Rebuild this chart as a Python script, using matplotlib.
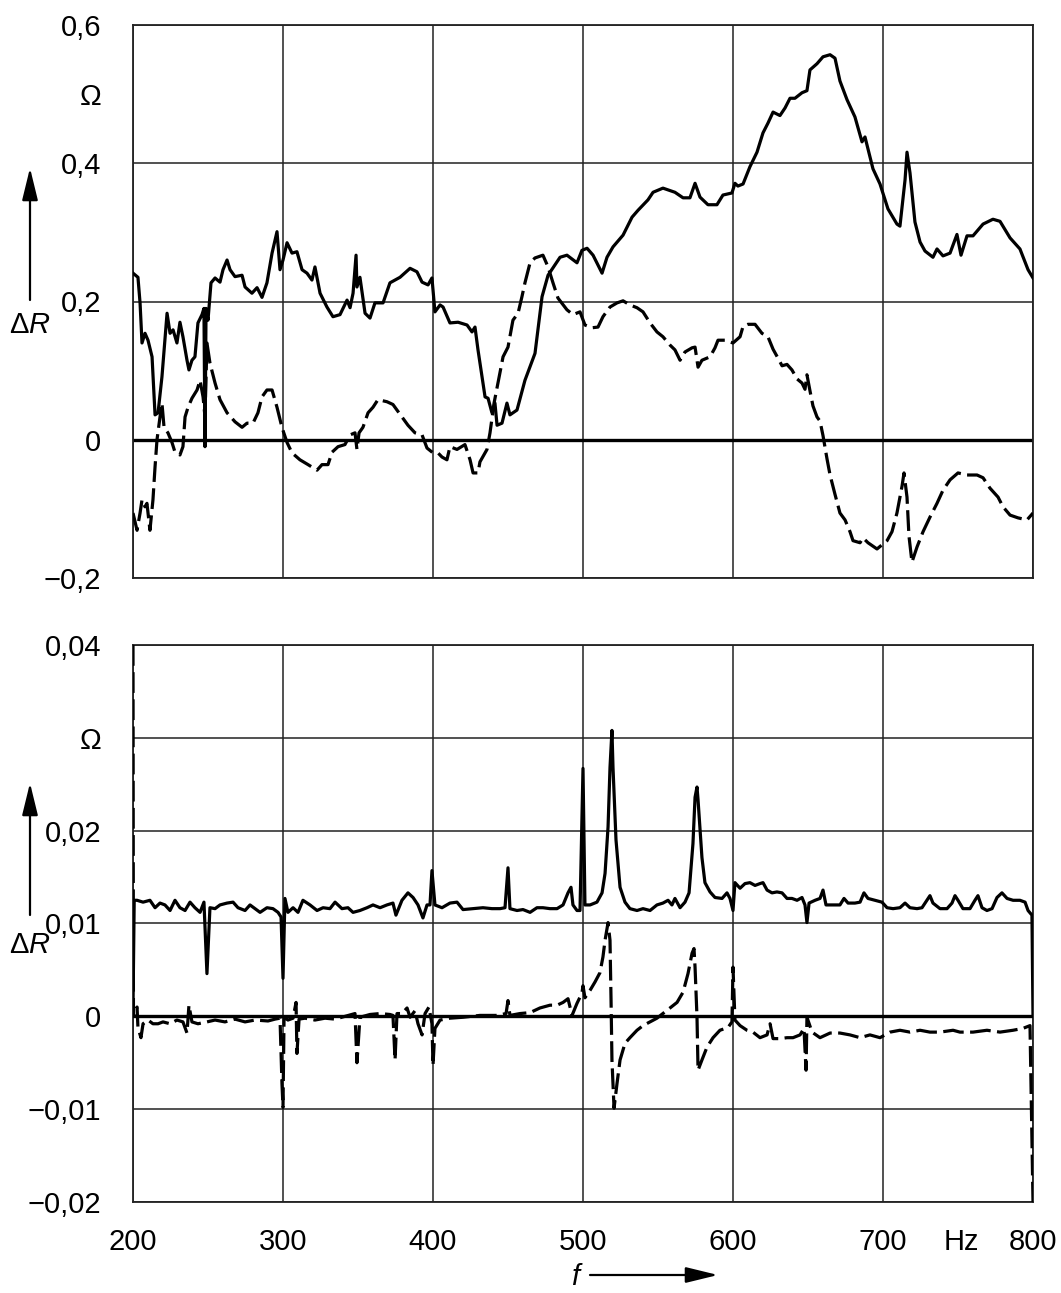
import matplotlib
matplotlib.use("Agg")
import matplotlib.pyplot as plt

plt.rcParams['font.family'] = ['Liberation Sans', 'DejaVu Sans']
plt.rcParams['mathtext.fontset'] = 'custom'
plt.rcParams['mathtext.it'] = 'Liberation Sans:italic'
plt.rcParams['mathtext.rm'] = 'Liberation Sans'

# upper diagram, resistance change in ohm over frequency in Hz
top_solid_f = [200.0, 203.3, 204.7, 206.0, 208.0, 210.0, 212.7, 214.7, 216.7, 219.3, 222.7, 224.7,
               226.7, 229.3, 231.3, 233.3, 236.0, 237.3, 239.3, 241.3, 243.3, 246.0, 247.3, 248.0,
               248.7, 250.0, 252.0, 254.7, 258.0, 260.0, 262.7, 264.7, 268.0, 272.7, 274.7, 279.3,
               282.7, 286.0, 289.3, 292.7, 296.0, 298.0, 300.0, 302.7, 306.0, 309.3, 312.7, 316.0,
               319.3, 321.3, 324.7, 329.3, 333.3, 338.0, 342.7, 344.7, 346.7, 348.7, 349.3, 351.3,
               354.7, 358.0, 361.3, 366.7, 371.3, 378.0, 384.7, 389.3, 392.7, 396.7, 399.3, 401.3,
               404.7, 406.7, 411.3, 416.7, 422.7, 426.0, 428.0, 430.0, 432.7, 434.7, 436.7, 439.3,
               441.3, 442.7, 446.0, 449.3, 451.3, 456.0, 461.3, 468.0, 472.7, 476.7, 481.3, 484.7,
               489.3, 496.0, 499.3, 502.7, 506.7, 512.7, 516.0, 520.0, 526.7, 532.7, 536.7, 543.3,
               546.7, 553.3, 561.3, 566.7, 571.3, 574.7, 578.0, 583.3, 589.3, 593.3, 599.3, 601.3,
               603.3, 606.7, 611.3, 616.0, 620.0, 623.3, 626.7, 631.3, 634.7, 638.0, 641.3, 646.0,
               649.3, 651.3, 656.0, 660.0, 664.7, 668.0, 671.3, 676.0, 681.3, 686.0, 688.0, 693.3,
               698.0, 703.3, 709.3, 711.3, 714.7, 716.0, 718.0, 721.3, 724.7, 728.0, 733.3, 736.0,
               740.0, 744.7, 749.3, 752.0, 756.0, 760.0, 766.7, 773.3, 778.0, 784.7, 791.3, 796.7,
               800.0]
top_solid_r = [0.241, 0.235, 0.198, 0.140, 0.154, 0.144, 0.120, 0.036, 0.039, 0.091, 0.183, 0.154,
               0.159, 0.140, 0.170, 0.149, 0.115, 0.101, 0.115, 0.120, 0.169, 0.181, 0.190, -0.010,
               0.190, 0.173, 0.227, 0.234, 0.228, 0.246, 0.260, 0.246, 0.236, 0.238, 0.221, 0.212,
               0.220, 0.206, 0.227, 0.270, 0.301, 0.246, 0.260, 0.285, 0.270, 0.272, 0.246, 0.241,
               0.231, 0.250, 0.212, 0.192, 0.178, 0.181, 0.202, 0.191, 0.212, 0.267, 0.221, 0.235,
               0.183, 0.176, 0.198, 0.198, 0.227, 0.235, 0.248, 0.243, 0.228, 0.224, 0.234, 0.185,
               0.195, 0.192, 0.169, 0.170, 0.166, 0.156, 0.163, 0.130, 0.091, 0.062, 0.060, 0.039,
               0.053, 0.021, 0.024, 0.053, 0.036, 0.043, 0.086, 0.125, 0.207, 0.238, 0.253, 0.264,
               0.267, 0.256, 0.274, 0.277, 0.267, 0.241, 0.264, 0.279, 0.296, 0.322, 0.332, 0.347,
               0.358, 0.364, 0.358, 0.350, 0.350, 0.371, 0.351, 0.340, 0.340, 0.354, 0.357, 0.371,
               0.367, 0.370, 0.395, 0.416, 0.444, 0.458, 0.474, 0.469, 0.480, 0.494, 0.494, 0.502,
               0.505, 0.535, 0.544, 0.554, 0.557, 0.552, 0.519, 0.492, 0.467, 0.431, 0.438, 0.392,
               0.370, 0.334, 0.312, 0.309, 0.376, 0.416, 0.386, 0.315, 0.286, 0.273, 0.264, 0.276,
               0.266, 0.270, 0.297, 0.267, 0.295, 0.295, 0.312, 0.319, 0.316, 0.292, 0.276, 0.246,
               0.234]

top_dash_f = [200.0, 202.7, 204.7, 206.0, 208.0, 209.3, 211.3, 213.3, 214.7, 216.0, 218.0, 219.3,
              220.7, 223.3, 226.0, 228.0, 231.3, 233.3, 234.7, 236.7, 239.3, 242.7, 244.7, 246.7,
              248.0, 249.3, 251.3, 254.7, 258.0, 262.7, 268.0, 272.7, 276.0, 280.0, 283.3, 286.0,
              289.3, 292.7, 296.0, 299.3, 302.7, 306.0, 311.3, 316.7, 322.7, 326.0, 330.0, 332.7,
              336.7, 341.3, 344.7, 348.0, 349.3, 350.7, 353.3, 356.7, 360.0, 363.3, 369.3, 373.3,
              379.3, 383.3, 388.0, 392.7, 396.0, 400.0, 403.3, 406.0, 409.3, 411.3, 416.0, 421.3,
              424.7, 426.7, 430.0, 431.3, 436.0, 438.0, 440.7, 443.3, 446.7, 450.0, 453.3, 456.7,
              459.3, 461.3, 464.7, 468.0, 473.3, 476.7, 480.0, 483.3, 489.3, 493.3, 498.0, 501.3,
              506.0, 510.0, 513.3, 518.0, 522.7, 526.7, 531.3, 536.0, 540.0, 544.7, 549.3, 553.3,
              558.0, 561.3, 564.7, 568.0, 572.7, 574.7, 576.7, 579.3, 584.7, 588.0, 590.0, 594.7,
              600.0, 604.7, 606.7, 610.0, 614.7, 619.3, 623.3, 626.7, 630.0, 632.7, 636.0, 639.3,
              642.7, 646.0, 648.0, 649.3, 651.3, 653.3, 656.0, 658.0, 660.0, 662.7, 664.7, 668.0,
              671.3, 674.7, 678.0, 680.0, 684.7, 686.7, 690.0, 696.0, 699.3, 702.7, 706.0, 709.3,
              712.7, 714.0, 716.0, 717.3, 719.3, 722.7, 726.7, 731.3, 736.0, 740.0, 744.7, 750.0,
              756.0, 762.7, 766.7, 771.3, 776.7, 780.0, 784.7, 790.0, 796.0, 800.0]
top_dash_r = [-0.106, -0.131, -0.106, -0.087, -0.097, -0.092, -0.131, -0.087, -0.039, 0.000, 0.033,
              0.053, 0.018, 0.010, -0.004, -0.018, -0.022, -0.010, 0.033, 0.047, 0.060, 0.072, 0.086,
              0.062, 0.033, 0.140, 0.111, 0.082, 0.058, 0.039, 0.026, 0.018, 0.024, 0.024, 0.039,
              0.062, 0.072, 0.072, 0.047, 0.018, -0.004, -0.019, -0.029, -0.036, -0.044, -0.036,
              -0.036, -0.018, -0.010, -0.007, 0.007, 0.010, -0.014, 0.010, 0.018, 0.039, 0.047, 0.058,
              0.055, 0.051, 0.033, 0.021, 0.010, 0.007, -0.012, -0.019, -0.019, -0.025, -0.029, -0.010,
              -0.014, -0.007, -0.029, -0.048, -0.048, -0.032, -0.014, 0.010, 0.053, 0.082, 0.120,
              0.134, 0.173, 0.183, 0.207, 0.227, 0.256, 0.263, 0.267, 0.250, 0.227, 0.205, 0.188,
              0.181, 0.185, 0.166, 0.162, 0.163, 0.178, 0.192, 0.198, 0.201, 0.195, 0.191, 0.185,
              0.169, 0.156, 0.149, 0.137, 0.130, 0.115, 0.127, 0.133, 0.134, 0.105, 0.115, 0.120,
              0.133, 0.144, 0.144, 0.140, 0.149, 0.164, 0.167, 0.167, 0.154, 0.149, 0.131, 0.118,
              0.107, 0.109, 0.101, 0.088, 0.082, 0.073, 0.094, 0.071, 0.049, 0.033, 0.027, 0.006,
              -0.028, -0.051, -0.079, -0.106, -0.116, -0.133, -0.146, -0.149, -0.142, -0.149, -0.158,
              -0.152, -0.146, -0.133, -0.106, -0.067, -0.048, -0.083, -0.139, -0.177, -0.155, -0.133,
              -0.112, -0.092, -0.073, -0.058, -0.048, -0.051, -0.051, -0.055, -0.070, -0.083, -0.097,
              -0.109, -0.113, -0.116, -0.106]

# lower diagram
bot_solid_f = [200.0, 200.8, 202.7, 206.7, 211.3, 214.7, 218.0, 221.3, 224.7, 228.0, 231.3, 234.7,
               238.0, 241.3, 244.7, 247.3, 249.3, 251.3, 254.7, 258.0, 262.7, 266.7, 270.0, 274.7,
               278.0, 281.3, 284.7, 289.3, 293.3, 296.7, 298.7, 300.0, 301.3, 303.3, 306.7, 310.0,
               313.3, 318.0, 322.7, 326.7, 331.3, 334.7, 339.3, 343.3, 346.7, 351.3, 356.0, 360.0,
               364.7, 369.3, 373.3, 375.3, 379.3, 383.3, 386.7, 390.0, 393.3, 396.0, 398.0, 399.3,
               401.3, 406.0, 411.3, 416.0, 420.0, 426.7, 433.3, 439.3, 444.7, 448.0, 450.0, 451.3,
               456.0, 460.0, 464.7, 469.3, 473.3, 478.0, 482.7, 486.7, 490.0, 492.0, 493.3, 496.0,
               498.0, 500.0, 501.3, 504.7, 509.3, 512.7, 514.7, 516.7, 518.0, 519.3, 520.0, 522.0,
               524.7, 528.0, 531.3, 536.0, 540.0, 544.7, 549.3, 553.3, 556.7, 559.3, 561.3, 564.7,
               568.0, 570.7, 573.3, 574.7, 576.0, 576.7, 579.3, 581.3, 584.7, 588.0, 592.7, 596.0,
               598.0, 600.0, 601.3, 604.7, 608.0, 611.3, 614.7, 618.0, 620.0, 622.7, 626.0, 629.3,
               632.7, 636.0, 639.3, 642.7, 646.0, 648.0, 649.3, 650.7, 654.7, 658.0, 660.0, 662.0,
               666.7, 671.3, 674.0, 676.7, 681.3, 684.7, 687.3, 690.0, 694.7, 699.3, 702.7, 706.7,
               711.3, 714.7, 718.0, 722.7, 726.0, 729.3, 731.3, 733.3, 738.0, 742.7, 746.0, 748.0,
               750.0, 753.3, 758.0, 761.3, 763.3, 766.0, 769.3, 772.7, 776.0, 779.3, 782.7, 786.7,
               791.3, 794.7, 796.7, 799.3, 800.0]
bot_solid_r = [0.0010, 0.0125, 0.0125, 0.0123, 0.0125, 0.0117, 0.0122, 0.0120, 0.0114, 0.0125, 0.0117,
               0.0114, 0.0123, 0.0117, 0.0112, 0.0123, 0.0046, 0.0117, 0.0116, 0.0120, 0.0122, 0.0123,
               0.0117, 0.0114, 0.0120, 0.0116, 0.0112, 0.0117, 0.0116, 0.0112, 0.0107, 0.0041, 0.0127,
               0.0112, 0.0117, 0.0112, 0.0125, 0.0120, 0.0114, 0.0117, 0.0116, 0.0123, 0.0116, 0.0117,
               0.0112, 0.0114, 0.0117, 0.0120, 0.0117, 0.0120, 0.0122, 0.0109, 0.0125, 0.0133, 0.0128,
               0.0120, 0.0106, 0.0120, 0.0120, 0.0157, 0.0120, 0.0117, 0.0122, 0.0123, 0.0115, 0.0116,
               0.0117, 0.0116, 0.0116, 0.0117, 0.0160, 0.0116, 0.0114, 0.0115, 0.0112, 0.0117, 0.0117,
               0.0116, 0.0116, 0.0120, 0.0133, 0.0139, 0.0120, 0.0114, 0.0114, 0.0267, 0.0120, 0.0120,
               0.0123, 0.0133, 0.0154, 0.0204, 0.0268, 0.0308, 0.0268, 0.0190, 0.0139, 0.0123, 0.0116,
               0.0114, 0.0116, 0.0114, 0.0120, 0.0122, 0.0125, 0.0120, 0.0127, 0.0117, 0.0123, 0.0133,
               0.0186, 0.0236, 0.0247, 0.0233, 0.0171, 0.0144, 0.0134, 0.0128, 0.0127, 0.0133, 0.0127,
               0.0114, 0.0144, 0.0138, 0.0143, 0.0144, 0.0141, 0.0143, 0.0144, 0.0136, 0.0133, 0.0134,
               0.0133, 0.0127, 0.0127, 0.0125, 0.0128, 0.0120, 0.0101, 0.0122, 0.0125, 0.0127, 0.0136,
               0.0120, 0.0120, 0.0120, 0.0127, 0.0122, 0.0122, 0.0123, 0.0133, 0.0127, 0.0125, 0.0123,
               0.0117, 0.0116, 0.0117, 0.0122, 0.0117, 0.0116, 0.0117, 0.0125, 0.0130, 0.0122, 0.0116,
               0.0116, 0.0122, 0.0130, 0.0125, 0.0116, 0.0116, 0.0125, 0.0130, 0.0117, 0.0114, 0.0116,
               0.0128, 0.0133, 0.0127, 0.0125, 0.0125, 0.0123, 0.0114, 0.0109, 0.0000]

bot_dash_f = [200.0, 200.3, 201.3, 202.7, 203.3, 205.3, 206.7, 210.0, 213.3, 216.7, 220.0, 224.7,
              229.3, 233.3, 236.0, 237.3, 239.3, 243.3, 249.3, 254.7, 261.3, 268.0, 274.7, 281.3,
              290.0, 294.7, 298.0, 299.3, 300.0, 300.7, 303.3, 306.7, 308.7, 309.3, 310.7, 314.7,
              321.3, 328.0, 334.7, 341.3, 348.0, 349.3, 351.3, 358.0, 364.7, 371.3, 373.3, 374.7,
              376.0, 379.3, 382.7, 384.7, 388.0, 390.0, 392.7, 394.7, 397.3, 399.3, 400.0, 401.3,
              404.7, 411.3, 420.0, 431.3, 442.7, 448.7, 450.0, 451.3, 458.0, 464.7, 471.3, 478.0,
              482.7, 486.7, 490.0, 492.7, 496.0, 499.3, 500.0, 501.3, 504.7, 508.0, 511.3, 513.3,
              514.7, 516.7, 518.0, 518.7, 519.3, 520.7, 522.7, 524.7, 528.0, 531.3, 536.0, 540.0,
              544.7, 549.3, 553.3, 558.0, 562.7, 566.7, 570.0, 572.7, 574.0, 574.7, 576.0, 576.7,
              579.3, 582.7, 586.7, 591.3, 596.7, 599.3, 600.0, 601.3, 604.7, 609.3, 613.3, 618.0,
              622.7, 624.7, 626.7, 631.3, 636.0, 640.0, 644.7, 647.3, 648.7, 649.3, 652.7, 658.0,
              664.7, 671.3, 678.0, 684.7, 691.3, 698.0, 704.7, 711.3, 718.0, 724.7, 731.3, 738.0,
              746.7, 751.3, 760.0, 769.3, 778.0, 786.7, 793.3, 798.0, 800.0]
bot_dash_r = [0.0400, 0.0000, 0.0006, 0.0010, -0.0012, -0.0023, -0.0008, -0.0004, -0.0008, -0.0008,
              -0.0006, -0.0008, -0.0004, -0.0006, -0.0018, 0.0012, -0.0006, -0.0008, -0.0006, -0.0004,
              -0.0006, -0.0003, -0.0006, -0.0004, -0.0005, -0.0003, -0.0002, -0.0072, -0.0098, -0.0001,
              -0.0004, -0.0002, 0.0015, -0.0040, -0.0003, -0.0002, -0.0004, -0.0002, -0.0003, 0.0000,
              0.0003, -0.0050, -0.0001, 0.0002, 0.0003, 0.0002, 0.0001, -0.0047, 0.0003, 0.0003,
              0.0009, -0.0001, 0.0006, -0.0008, -0.0020, 0.0003, 0.0010, -0.0008, -0.0053, -0.0013,
              -0.0004, -0.0002, -0.0001, 0.0001, 0.0001, 0.0003, 0.0017, 0.0001, 0.0003, 0.0004,
              0.0009, 0.0012, 0.0012, 0.0015, 0.0019, 0.0001, 0.0014, 0.0025, 0.0033, 0.0020, 0.0028,
              0.0037, 0.0047, 0.0064, 0.0082, 0.0101, 0.0082, 0.0017, -0.0047, -0.0099, -0.0072,
              -0.0047, -0.0029, -0.0023, -0.0015, -0.0010, -0.0006, -0.0002, 0.0003, 0.0009, 0.0015,
              0.0026, 0.0046, 0.0068, 0.0073, 0.0053, -0.0001, -0.0058, -0.0047, -0.0033, -0.0023,
              -0.0015, -0.0012, -0.0006, 0.0053, -0.0004, -0.0010, -0.0015, -0.0017, -0.0023, -0.0020,
              -0.0008, -0.0024, -0.0024, -0.0023, -0.0023, -0.0020, -0.0013, -0.0058, -0.0001, -0.0017,
              -0.0023, -0.0018, -0.0018, -0.0020, -0.0023, -0.0020, -0.0023, -0.0017, -0.0015, -0.0017,
              -0.0015, -0.0017, -0.0017, -0.0015, -0.0017, -0.0017, -0.0015, -0.0017, -0.0015, -0.0013,
              -0.0010, -0.0200]

x_ticks = [200, 300, 400, 500, 600, 700, 800]
x_labels = ['200', '300', '400', '500', '600', '700', '800']
top_ticks = [-0.2, 0, 0.2, 0.4, 0.6]
top_labels = ['\u22120,2', '0', '0,2', '0,4', '0,6']
bot_ticks = [-0.02, -0.01, 0, 0.01, 0.02, 0.03, 0.04]
bot_labels = ['\u22120,02', '\u22120,01', '0', '0,01', '0,02', '\u03a9', '0,04']

W, H = 1061, 1293
fig = plt.figure(figsize=(W / 100, H / 100), dpi=100)
ax1 = fig.add_axes([133 / W, 1 - 578 / H, 900 / W, 553 / H])
ax2 = fig.add_axes([133 / W, 1 - 1202 / H, 900 / W, 557 / H])

lw = 2.3
dash = (0, (6.5, 2.0))
fs = 21

ax1.plot(top_solid_f, top_solid_r, color='black', lw=lw, solid_joinstyle='round', zorder=3)
ax1.plot(top_dash_f, top_dash_r, color='black', lw=lw, linestyle=dash, zorder=3)
ax2.plot(bot_solid_f, bot_solid_r, color='black', lw=lw, solid_joinstyle='round', zorder=3)
ax2.plot(bot_dash_f, bot_dash_r, color='black', lw=lw, linestyle=dash, zorder=3)

for ax, ticks, labels in [(ax1, top_ticks, top_labels), (ax2, bot_ticks, bot_labels)]:
    ax.set_xlim(200, 800)
    ax.set_ylim(ticks[0], ticks[-1])
    ax.set_xticks(x_ticks)
    ax.set_yticks(ticks, labels)
    ax.grid(True, which='major', color='#222222', lw=1.1)
    ax.axhline(0, color='black', lw=2.4, zorder=2)
    ax.tick_params(which='both', length=0, labelsize=fs, pad=23)
    for s in ax.spines.values():
        s.set_linewidth(1.3)
        s.set_color('#222222')
    ax.set_axisbelow(True)

# unit label between 0,4 and 0,6 (no grid line there)
ax1.set_yticks([0.5], ['\u03a9'], minor=True)

ax1.set_xticklabels([])
ax2.set_xticklabels(x_labels)
ax2.set_xticks([752.5], ['Hz'], minor=True)
ax2.tick_params(axis='x', which='both', pad=19)

# quantity arrows and labels
arrow_kw = dict(arrowstyle='-|>,head_length=0.9,head_width=0.22', color='black', lw=1.6,
                mutation_scale=22, shrinkA=0, shrinkB=0)
for tail, tip, lab in [(300, 168, 325), (915, 783, 945)]:
    fig.patches.append(matplotlib.patches.FancyArrowPatch(
        (30 / W, 1 - tail / H), (30 / W, 1 - tip / H), transform=fig.transFigure, **arrow_kw))
    fig.text(30 / W, 1 - lab / H, '\u0394$R$', ha='center', va='center', fontsize=fs)

fig.patches.append(matplotlib.patches.FancyArrowPatch(
    (590 / W, 1 - 1275 / H), (718 / W, 1 - 1275 / H), transform=fig.transFigure, **arrow_kw))
fig.text(575 / W, 1 - 1277 / H, 'f', ha='center', va='center', fontsize=fs, style='italic')

fig.savefig('out.png', dpi=100)
